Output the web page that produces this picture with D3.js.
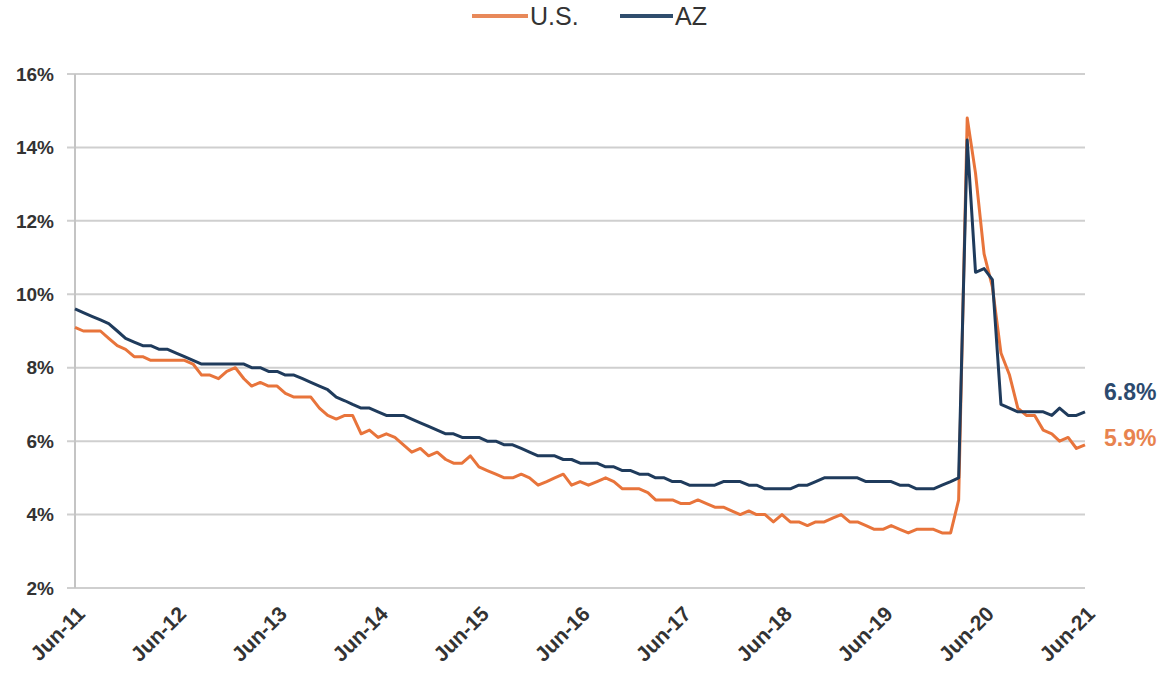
<!DOCTYPE html>
<html>
<head>
<meta charset="utf-8">
<script src="https://cdn.jsdelivr.net/npm/d3@7"></script>
<style>
  body { margin: 0; background: #fff; }
  svg { display: block; font-family: "Liberation Sans", Arial, sans-serif; }
</style>
</head>
<body>
<div id="chart"></div>
<script>
// monthly unemployment rate, Jun 2011 .. Jun 2021
const startMonth = new Date(2011, 5, 1);
const endMonth = new Date(2021, 5, 1);

const usRate = [
  9.1, 9.0, 9.0, 9.0, 8.8, 8.6, 8.5,
  8.3, 8.3, 8.2, 8.2, 8.2, 8.2, 8.2, 8.1, 7.8, 7.8, 7.7, 7.9,
  8.0, 7.7, 7.5, 7.6, 7.5, 7.5, 7.3, 7.2, 7.2, 7.2, 6.9, 6.7,
  6.6, 6.7, 6.7, 6.2, 6.3, 6.1, 6.2, 6.1, 5.9, 5.7, 5.8, 5.6,
  5.7, 5.5, 5.4, 5.4, 5.6, 5.3, 5.2, 5.1, 5.0, 5.0, 5.1, 5.0,
  4.8, 4.9, 5.0, 5.1, 4.8, 4.9, 4.8, 4.9, 5.0, 4.9, 4.7, 4.7,
  4.7, 4.6, 4.4, 4.4, 4.4, 4.3, 4.3, 4.4, 4.3, 4.2, 4.2, 4.1,
  4.0, 4.1, 4.0, 4.0, 3.8, 4.0, 3.8, 3.8, 3.7, 3.8, 3.8, 3.9,
  4.0, 3.8, 3.8, 3.7, 3.6, 3.6, 3.7, 3.6, 3.5, 3.6, 3.6, 3.6,
  3.5, 3.5, 4.4, 14.8, 13.3, 11.1, 10.2, 8.4, 7.8, 6.9, 6.7, 6.7,
  6.3, 6.2, 6.0, 6.1, 5.8, 5.9
];

const azRate = [
  9.6, 9.5, 9.4, 9.3, 9.2, 9.0, 8.8,
  8.7, 8.6, 8.6, 8.5, 8.5, 8.4, 8.3, 8.2, 8.1, 8.1, 8.1, 8.1,
  8.1, 8.1, 8.0, 8.0, 7.9, 7.9, 7.8, 7.8, 7.7, 7.6, 7.5, 7.4,
  7.2, 7.1, 7.0, 6.9, 6.9, 6.8, 6.7, 6.7, 6.7, 6.6, 6.5, 6.4,
  6.3, 6.2, 6.2, 6.1, 6.1, 6.1, 6.0, 6.0, 5.9, 5.9, 5.8, 5.7,
  5.6, 5.6, 5.6, 5.5, 5.5, 5.4, 5.4, 5.4, 5.3, 5.3, 5.2, 5.2,
  5.1, 5.1, 5.0, 5.0, 4.9, 4.9, 4.8, 4.8, 4.8, 4.8, 4.9, 4.9,
  4.9, 4.8, 4.8, 4.7, 4.7, 4.7, 4.7, 4.8, 4.8, 4.9, 5.0, 5.0,
  5.0, 5.0, 5.0, 4.9, 4.9, 4.9, 4.9, 4.8, 4.8, 4.7, 4.7, 4.7,
  4.8, 4.9, 5.0, 14.2, 10.6, 10.7, 10.4, 7.0, 6.9, 6.8, 6.8, 6.8,
  6.8, 6.7, 6.9, 6.7, 6.7, 6.8
];

const yTicks = [2, 4, 6, 8, 10, 12, 14, 16];
const seriesNames = ["U.S.", "AZ"];
const seriesColors = ["#e8743b", "#1f3b5c"];
const legendColors = ["#e8895a", "#2f4d6d"];
const labelColors = ["#e8834f", "#2c4a6e"];

const width = 1168, height = 675;
const plot = { left: 75, right: 1085, top: 74, bottom: 588 };

const months = d3.timeMonth.range(startMonth, d3.timeMonth.offset(endMonth, 1));
// one tick every June
const yearTicks = months.filter(d => d.getMonth() === 5);

const x = d3.scaleTime().domain([startMonth, endMonth]).range([plot.left, plot.right]);
const y = d3.scaleLinear().domain([2, 16]).range([plot.bottom, plot.top]);

const svg = d3.select("#chart").append("svg")
  .attr("width", width)
  .attr("height", height);

// horizontal gridlines
svg.append("g")
  .selectAll("line")
  .data(yTicks)
  .join("line")
  .attr("x1", plot.left - 8)
  .attr("x2", plot.right)
  .attr("y1", d => y(d))
  .attr("y2", d => y(d))
  .attr("stroke", "#cfcfcf")
  .attr("stroke-width", 2);

// left axis line
svg.append("line")
  .attr("x1", plot.left).attr("x2", plot.left)
  .attr("y1", plot.top).attr("y2", plot.bottom)
  .attr("stroke", "#c4c4c4")
  .attr("stroke-width", 2);

// y labels
svg.append("g")
  .selectAll("text")
  .data(yTicks)
  .join("text")
  .attr("x", 54)
  .attr("y", d => y(d))
  .attr("dy", "0.35em")
  .attr("text-anchor", "end")
  .attr("font-size", 19)
  .attr("font-weight", "bold")
  .attr("fill", "#333")
  .text(d => d + "%");

// x labels, rotated
const fmt = d3.timeFormat("%b-%y");
svg.append("g")
  .selectAll("text")
  .data(yearTicks)
  .join("text")
  .attr("transform", d => `translate(${x(d) + 6},${plot.bottom + 22}) rotate(-45)`)
  .attr("text-anchor", "end")
  .attr("dy", "0.35em")
  .attr("font-size", 21)
  .attr("font-weight", "bold")
  .attr("fill", "#333")
  .text(d => fmt(d));

// lines
const allSeries = [usRate, azRate];
const line = d3.line()
  .x((d, i) => x(months[i]))
  .y(d => y(d));

allSeries.forEach((vals, k) => {
  svg.append("path")
    .datum(vals)
    .attr("fill", "none")
    .attr("stroke", seriesColors[k])
    .attr("stroke-width", 3)
    .attr("stroke-linejoin", "round")
    .attr("d", line);
});

// end value labels
const lastIdx = months.length - 1;
[{ k: 1, ypos: 392 }, { k: 0, ypos: 438 }].forEach(o => {
  const v = allSeries[o.k][lastIdx];
  svg.append("text")
    .attr("x", 1104)
    .attr("y", o.ypos)
    .attr("dy", "0.35em")
    .attr("font-size", 23)
    .attr("font-weight", "bold")
    .attr("fill", labelColors[o.k])
    .text(v.toFixed(1) + "%");
});

// legend
const legend = svg.append("g");
const legendPos = [472, 620];
const legendLen = [56, 53];
seriesNames.forEach((name, k) => {
  const g = legend.append("g").attr("transform", `translate(${legendPos[k]},16)`);
  g.append("line")
    .attr("x1", 0).attr("x2", legendLen[k])
    .attr("y1", 0).attr("y2", 0)
    .attr("stroke", legendColors[k])
    .attr("stroke-width", 4);
  g.append("text")
    .attr("x", legendLen[k] + 2)
    .attr("dy", "0.36em")
    .attr("font-size", 25)
    .attr("fill", "#333")
    .text(name);
});
</script>
</body>
</html>
